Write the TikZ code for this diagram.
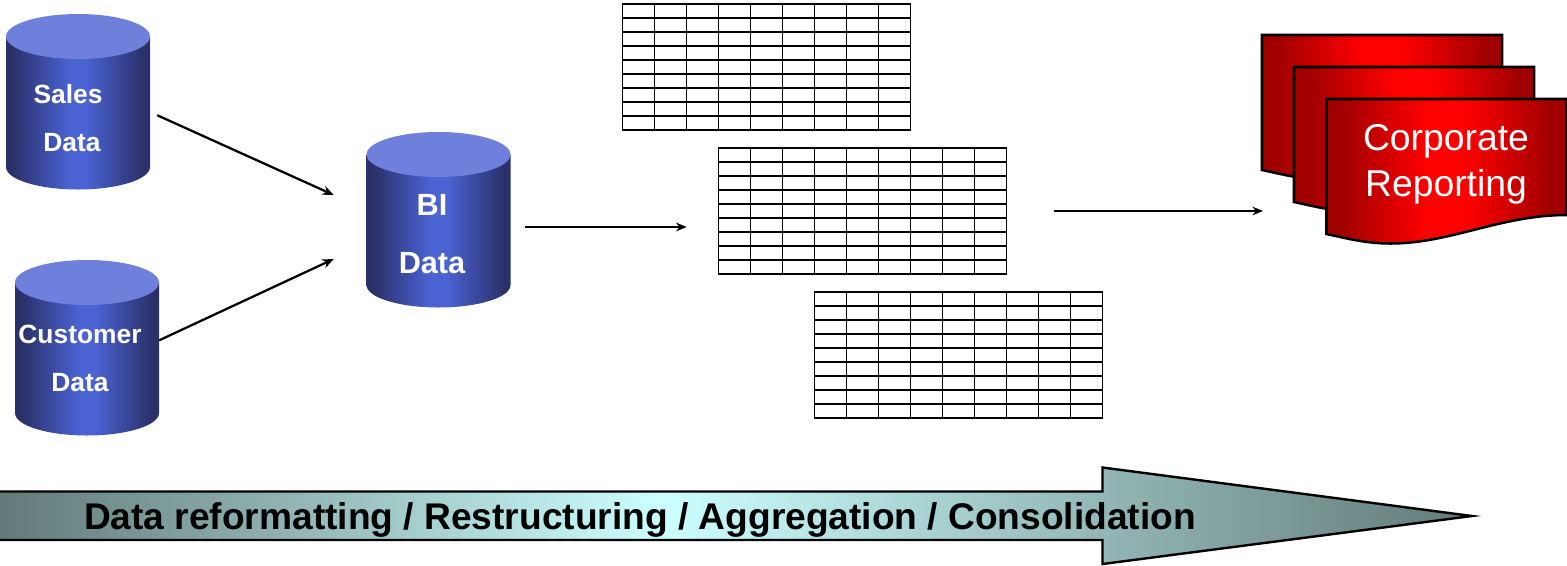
\documentclass[tikz,border=0pt]{standalone}
\usepackage{fontspec}
\setmainfont{Liberation Sans}
\usetikzlibrary{arrows.meta,calc}
\definecolor{cyldark}{HTML}{2A3068}
\definecolor{cylmid}{HTML}{4A62D2}
\definecolor{cyltop}{HTML}{6F80DC}
\definecolor{repdark}{HTML}{A00000}
\definecolor{repmid}{HTML}{FF0000}
\definecolor{bardark}{HTML}{627A78}
\definecolor{barmid}{HTML}{CCFFFF}
\pgfdeclarehorizontalshading{barshade}{100bp}{
  color(0bp)=(bardark); color(25bp)=(bardark); color(47.5bp)=(barmid); color(75bp)=(bardark); color(100bp)=(bardark)}
\pgfdeclarehorizontalshading{cylshade}{100bp}{
  color(0bp)=(cyldark); color(27bp)=(cyldark); color(47bp)=(cylmid); color(53bp)=(cylmid); color(73bp)=(cyldark); color(100bp)=(cyldark)}
\pgfdeclarehorizontalshading{repshade}{100bp}{
  color(0bp)=(repdark); color(28bp)=(repdark); color(46bp)=(repmid); color(54bp)=(repmid); color(72bp)=(repdark); color(100bp)=(repdark)}
\tikzset{
  link/.style={draw=black,line width=1.7pt,-{Stealth[length=8.5pt,width=7pt]}},
  flatlink/.style={draw=black,line width=1.3pt,-{Stealth[length=8pt,width=6.5pt]}},
  cyllabel/.style={text=white,font=\bfseries\fontsize{19.8}{24}\selectfont,anchor=base,inner sep=0pt},
  bilabel/.style={text=white,font=\bfseries\fontsize{23}{27}\selectfont,anchor=base,inner sep=0pt},
  replabel/.style={text=white,font=\fontsize{28}{32}\selectfont,anchor=base,inner sep=0pt},
  barlabel/.style={text=black,font=\bfseries\fontsize{27.85}{32}\selectfont,anchor=base,inner sep=0pt},
  cylbox/.style={minimum width=108pt,minimum height=132pt,inner sep=0pt},
  tablebox/.style={minimum width=216pt,minimum height=94.5pt,inner sep=0pt},
  tablegrid/.style={draw=black,line width=1.3pt,line cap=rect},
  repsheet/.style={draw=black,line width=1.9pt,shading=repshade,shading angle=0},
}
\newcommand{\dbcyl}[3]{% name, left x, top y
  \begin{scope}[shift={(#2,#3)}]
    \path[shading=cylshade,shading angle=0]
      (0,22.5) -- (0,153) .. controls (0,165.4) and (32.2,175.5) .. (72,175.5)
      .. controls (111.8,175.5) and (144,165.4) .. (144,153) -- (144,22.5) -- cycle;
    \fill[cyltop] (0,22.5) .. controls (0,10.1) and (32.2,0) .. (72,0)
      .. controls (111.8,0) and (144,10.1) .. (144,22.5)
      .. controls (144,34.9) and (111.8,45) .. (72,45)
      .. controls (32.2,45) and (0,34.9) .. (0,22.5) -- cycle;
    \node[cylbox] (#1) at (72,88.25) {};
  \end{scope}}
\newcommand{\datatable}[3]{% name, left x, top y
  \begin{scope}[shift={(#2,#3)}]
    \node[tablebox] (#1) at (144,63) {};
    \foreach \c in {0,...,9} {\draw[tablegrid] (32*\c,0) -- (32*\c,126);}
    \foreach \r in {0,...,9} {\draw[tablegrid] (0,14*\r) -- (288,14*\r);}
  \end{scope}}
\newcommand{\report}[3]{% name, left x, top y
  \begin{scope}[shift={(#2,#3)}]
    \path[repsheet] (0,0) -- (240,0) -- (240,116)
      .. controls (174,116) and (124,144.5) .. (64,144.5)
      .. controls (39,144.5) and (19,139) .. (0,135) -- cycle;
    \node[inner sep=0pt] (#1) at (120,70) {};
  \end{scope}}
\begin{document}
\begin{tikzpicture}[x=0.75pt,y=-0.75pt]
\useasboundingbox (0,0) rectangle (1567,565);
\dbcyl{sales}{6}{14}
\dbcyl{customer}{15}{260}
\dbcyl{bi}{366.5}{132}
\node[cyllabel] (t1) at (68,103) {Sales};
\node[cyllabel] (t2) at (72,151.5) {Data};
\node[cyllabel] (t3) at (80,343) {Customer};
\node[cyllabel] (t4) at (80,391) {Data};
\node[bilabel] (t5) at (432,215) {BI};
\node[bilabel] (t6) at (432,273) {Data};
\datatable{ta}{622.5}{4}
\datatable{tb}{718.5}{148}
\datatable{tc}{814.5}{292}
\report{ra}{1262}{35}
\report{rb}{1294}{67}
\report{rc}{1326.5}{99}
\node[replabel] (t7) at (1446,150) {Corporate};
\node[replabel] (t8) at (1446,196) {Reporting};
\draw[link] ([shift={(7,13)}]sales.east) -- ([shift={(-32.5,-25.25)}]bi.west);
\draw[link] ([shift={(0,-8)}]customer.east) -- ([shift={(-32.5,38.75)}]bi.west);
\draw[flatlink] ([shift={(14.5,6.75)}]bi.east) -- ([shift={(-31.5,16)}]tb.west);
\draw[flatlink] ([shift={(47,0)}]tb.east) -- ([shift={(-119,106)}]ra.center);
\node[inner sep=0pt] (bar) at (739,516) {};
\path[draw=black,line width=1.8pt,shading=barshade,shading angle=0]
  (-3,491.5) -- (1102.5,491.5) -- (1102.5,467.5) -- (1472,516) -- (1102.5,564) -- (1102.5,540) -- (-3,540) -- cycle;
\node[barlabel] (t9) at (640,529.5) {Data reformatting / Restructuring / Aggregation / Consolidation};
\end{tikzpicture}
\end{document}
